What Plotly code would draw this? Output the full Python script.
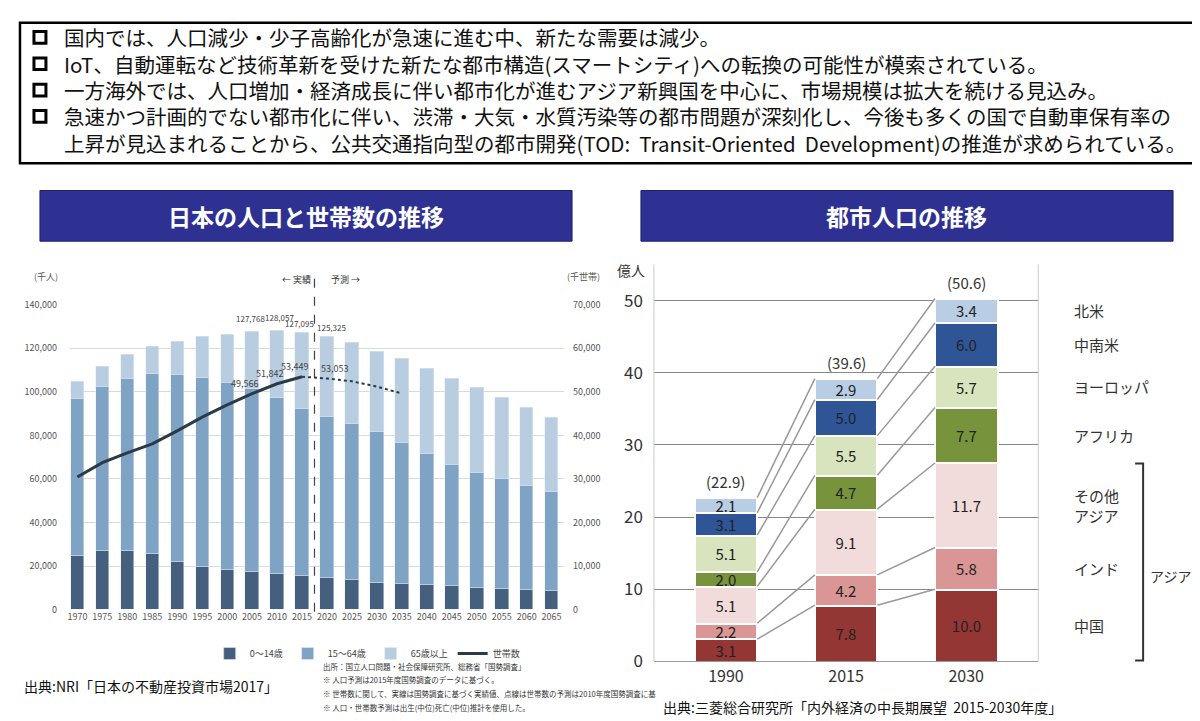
import plotly.graph_objects as go

years = [1970,1975,1980,1985,1990,1995,2000,2005,2010,2015,2020,2025,2030,2035,2040,2045,2050,2055,2060,2065]
total = [104477,111640,116865,120895,123134,125373,126269,127768,128057,127095,125325,122388,118657,115224,110746,106269,101791,97313,92836,88060]
upto64 = [97015,102537,105970,108507,107761,106716,104179,101493,97313,92090,88806,85373,81642,76866,71493,66716,63134,60000,57015,54030]
age0_14 = [25075,27164,27313,25970,22239,19701,18209,17463,16418,15672,14925,13881,12687,11940,11493,11045,10298,9701,9104,8657]
hh_years = [1970,1975,1980,1985,1990,1995,2000,2005,2010,2015]
households = [30447,33731,36000,38060,41045,44180,47000,49566,51842,53449]
hh_fc_years = [2015,2020,2025,2030,2035]
households_fc = [53449,53053,52400,51200,49600]

age15_64 = [a-b for a,b in zip(upto64, age0_14)]
age65 = [a-b for a,b in zip(total, upto64)]

periods = ["1990","2015","2030"]
regions = ["中国","インド","その他アジア","アフリカ","ヨーロッパ","中南米","北米"]
urban = {
    "中国":[3.1,7.8,10.0],
    "インド":[2.2,4.2,5.8],
    "その他アジア":[5.1,9.1,11.7],
    "アフリカ":[2.0,4.7,7.7],
    "ヨーロッパ":[5.1,5.5,5.7],
    "中南米":[3.1,5.0,6.0],
    "北米":[2.1,2.9,3.4],
}
totals = ["(22.9)","(39.6)","(50.6)"]
region_labels = ["中国","インド","その他<br>アジア","アフリカ","ヨーロッパ","中南米","北米"]

FONT = "Noto Sans CJK JP"
W, H = 1200, 721
def px(x): return x / W
def py(y): return 1 - y / H

fig = go.Figure()
c1, c2, c3 = "#44607e", "#7fa3c4", "#b8cde0"
fig.add_bar(x=years, y=age0_14, marker_color=c1, name="0～14歳", width=2.7, xaxis="x", yaxis="y")
fig.add_bar(x=years, y=age15_64, marker_color=c2, name="15～64歳", width=2.7, xaxis="x", yaxis="y")
fig.add_bar(x=years, y=age65, marker_color=c3, name="65歳以上", width=2.7, xaxis="x", yaxis="y")
fig.add_scatter(x=hh_years, y=households, mode="lines", line=dict(color="#2b3a48", width=3), name="世帯数", xaxis="x", yaxis="y2")
fig.add_scatter(x=hh_fc_years, y=households_fc, mode="lines", line=dict(color="#2b3a48", width=2, dash="dot"), showlegend=False, xaxis="x", yaxis="y2")

rcolors = ["#943634","#d99694","#f2dcdb","#77933c","#d7e4bd","#2f5597","#b9cde5"]
xs = [0,1,2]
bw = 0.52
for r, col in zip(regions, rcolors):
    vals = urban[r]
    fig.add_bar(x=xs, y=vals, marker=dict(color=col, line=dict(color="white", width=2)), width=bw,
                text=[f"{v:.1f}" for v in vals], textposition="inside", insidetextanchor="middle",
                textangle=0, constraintext="none",
                textfont=dict(size=15, color="#222", family=FONT), showlegend=False,
                xaxis="x3", yaxis="y3")
cum = [[0,0,0]]
for r in regions:
    cum.append([cum[-1][i] + urban[r][i] for i in range(3)])
for level in cum[1:]:
    for i in range(2):
        fig.add_scatter(x=[i+bw/2, i+1-bw/2], y=[level[i], level[i+1]], mode="lines",
                        line=dict(color="#999", width=1.5), showlegend=False, hoverinfo="skip",
                        xaxis="x3", yaxis="y3")

ann = []
for i, t in enumerate(totals):
    ann.append(dict(x=i, y=cum[-1][i], xref="x3", yref="y3", text=t, showarrow=False, yshift=16,
                    font=dict(size=15, color="#333", family=FONT)))
for j, lab in enumerate(region_labels):
    mid = cum[j][2] + urban[regions[j]][2]/2
    ann.append(dict(x=px(1064), y=mid, xref="paper", yref="y3", text=lab, showarrow=False, xanchor="left",
                    align="left", font=dict(size=15, color="#333", family=FONT)))

for x, y, t, xs_ in [(2005,127768,"127,768",-2),(2010,128057,"128,057",2)]:
    ann.append(dict(x=x, y=y, xref="x", yref="y", text=t, showarrow=False, yshift=13, xshift=xs_,
                    font=dict(size=8, color="#444", family=FONT)))
for x, y, t, xs_ in [(2015,127095,"127,095",-3),(2020,125325,"125,325",5)]:
    ann.append(dict(x=x, y=y, xref="x", yref="y", text=t, showarrow=False, yshift=9, xshift=xs_,
                    font=dict(size=8, color="#444", family=FONT)))
for x, y, t in [(2005,49566,"49,566"),(2010,51842,"51,842"),(2015,53449,"53,449"),(2020,53053,"53,053")]:
    ann.append(dict(x=x, y=y, xref="x", yref="y2", text=t, showarrow=False, yshift=10, xshift=-8 if x<2020 else 8,
                    font=dict(size=9, color="#444", family=FONT)))

def txt(x, y, t, size=12, color="#333", anchor="left", bold=False, valign="middle"):
    if bold: t = f"<b>{t}</b>"
    ann.append(dict(x=px(x), y=py(y), xref="paper", yref="paper", text=t, showarrow=False, xanchor=anchor,
                    yanchor=valign, font=dict(size=size, color=color, family=FONT), align="left"))

lines = ["国内では、人口減少・少子高齢化が急速に進む中、新たな需要は減少。",
         "IoT、自動運転など技術革新を受けた新たな都市構造(スマートシティ)への転換の可能性が模索されている。",
         "一方海外では、人口増加・経済成長に伴い都市化が進むアジア新興国を中心に、市場規模は拡大を続ける見込み。",
         "急速かつ計画的でない都市化に伴い、渋滞・大気・水質汚染等の都市問題が深刻化し、今後も多くの国で自動車保有率の",
         "上昇が見込まれることから、公共交通指向型の都市開発(TOD:  Transit-Oriented  Development)の推進が求められている。"]
for k, l in enumerate(lines):
    txt(52, 23 + 27*k, l, 20.5, "#111")

txt(296, 206, "日本の人口と世帯数の推移", 23, "white", "center", True)
txt(898, 206, "都市人口の推移", 23, "white", "center", True)
txt(22, 268, "(千人)", 9, "#555")
txt(556, 268, "(千世帯)", 9, "#555")
txt(304, 271, "← 実績", 9, "#333", "right")
txt(320, 271, "予測 →", 9, "#333")
txt(606, 262, "億人", 14, "#333")
txt(1140, 575, "アジア", 14, "#333")
txt(12, 688, "出典:NRI「日本の不動産投資市場2017」", 14, "#111")
txt(652, 710, "出典:三菱総合研究所「内外経済の中長期展望  2015-2030年度」", 14, "#111")
for k, l in enumerate(["出所：国立人口問題・社会保障研究所、総務省「国勢調査」",
                       "※ 人口予測は2015年度国勢調査のデータに基づく。",
                       "※ 世帯数に関して、実線は国勢調査に基づく実績値、点線は世帯数の予測は2010年度国勢調査に基",
                       "※ 人口・世帯数予測は出生(中位)死亡(中位)推計を使用した。"]):
    txt(312, 668 + 14*k, l, 7.5, "#333")

shapes = [
    dict(type="rect", xref="paper", yref="paper", x0=px(10), x1=px(1190), y0=py(8), y1=py(152),
         line=dict(color="#000", width=2.5), fillcolor="white", layer="below"),
    dict(type="rect", xref="paper", yref="paper", x0=px(30), x1=px(563), y0=py(180), y1=py(232),
         line=dict(color="#1e2070", width=1), fillcolor="#2e3192"),
    dict(type="rect", xref="paper", yref="paper", x0=px(632), x1=px(1165), y0=py(180), y1=py(232),
         line=dict(color="#1e2070", width=1), fillcolor="#2e3192"),
    dict(type="line", xref="x", yref="paper", x0=2017.5, x1=2017.5, y0=py(612), y1=py(262),
         line=dict(color="#444", width=1.2, dash="dash")),
    dict(type="path", xref="paper", yref="paper",
         path=f"M {px(1127)} {py(460)} L {px(1135)} {py(460)} L {px(1135)} {py(662)} L {px(1127)} {py(662)}",
         line=dict(color="#333", width=2)),
]
for k in range(4):
    y = 23 + 27*k
    shapes.append(dict(type="rect", xref="paper", yref="paper", x0=px(24), x1=px(36), y0=py(y-6), y1=py(y+6),
                       line=dict(color="#000", width=3), fillcolor="white"))

fig.update_layout(
    width=W, height=H, margin=dict(l=0, r=0, t=0, b=0), paper_bgcolor="white", plot_bgcolor="white",
    barmode="stack", bargap=0, font=dict(family=FONT),
    annotations=ann, shapes=shapes,
    legend=dict(orientation="h", x=px(200), y=py(640), xanchor="left", yanchor="top",
                font=dict(size=9, color="#444", family=FONT), itemwidth=30, traceorder="normal"),
    xaxis=dict(domain=[px(60), px(555)], range=[1968.5, 2067.5], tickvals=years, ticks="",
               tickfont=dict(size=9, color="#555"), showgrid=False, showline=False, anchor="y", fixedrange=True),
    yaxis=dict(domain=[py(610), py(297)], range=[0, 140000], dtick=20000, tickformat=",",
               tickfont=dict(size=9, color="#555"), gridcolor="#d9d9d9", zeroline=True, zerolinecolor="#bbb",
               anchor="x", ticklabelstandoff=12),
    yaxis2=dict(overlaying="y", side="right", range=[0, 70000], dtick=10000, tickformat=",",
                tickfont=dict(size=9, color="#555"), showgrid=False, anchor="x", ticklabelstandoff=8),
    xaxis3=dict(domain=[px(645), px(1030)], range=[-0.6, 2.6], tickvals=xs, ticktext=periods, ticks="outside",
                ticklen=0, tickfont=dict(size=16, color="#333"), showline=True, linecolor="#999", anchor="y3"),
    yaxis3=dict(domain=[py(663), py(256)], range=[0, 55], tickvals=[0,10,20,30,40,50],
                tickfont=dict(size=17, color="#333"), gridcolor="#888", gridwidth=1, zeroline=False, anchor="x3",
                ticklabelstandoff=10),
)
fig.add_shape(type="line", xref="paper", yref="paper", x0=px(645), x1=px(645), y0=py(663), y1=py(256),
              line=dict(color="#ccc", width=1))
fig.add_shape(type="line", xref="paper", yref="paper", x0=px(1030), x1=px(1030), y0=py(663), y1=py(256),
              line=dict(color="#ccc", width=1))
fig.write_html("out.html")
